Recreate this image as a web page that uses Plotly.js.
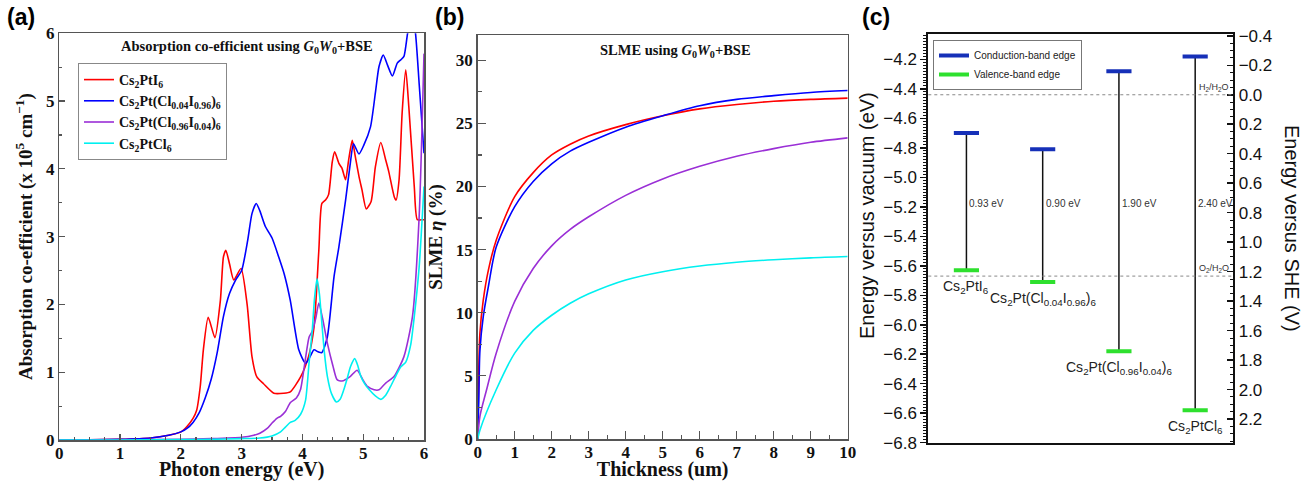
<!DOCTYPE html>
<html><head><meta charset="utf-8">
<script src="https://cdn.plot.ly/plotly-3.0.1.min.js"></script>
<style>html,body{margin:0;padding:0;background:#fff}#chart{width:1313px;height:481px}</style>
</head><body><div id="chart"></div>
<script>
// ---------- Panel (a): absorption coefficient (x 10^5 cm^-1) vs photon energy (eV)
const seriesNames = [
  'Cs<sub>2</sub>PtI<sub>6</sub>',
  'Cs<sub>2</sub>Pt(Cl<sub>0.04</sub>I<sub>0.96</sub>)<sub>6</sub>',
  'Cs<sub>2</sub>Pt(Cl<sub>0.96</sub>I<sub>0.04</sub>)<sub>6</sub>',
  'Cs<sub>2</sub>PtCl<sub>6</sub>'
];
const seriesColors = ['#ff0000', '#0000ff', '#9a2fd6', '#00f0f0'];

const energyI6 = [0,0.5,1.0,1.5,1.8,2.0,2.1,2.2,2.26,2.32,2.37,2.45,2.56,2.65,2.70,2.74,2.8,2.87,2.99,3.09,3.17,3.25,3.36,3.53,3.69,3.80,3.97,4.10,4.19,4.27,4.32,4.38,4.43,4.49,4.53,4.6,4.65,4.71,4.76,4.82,4.87,4.93,4.98,5.05,5.13,5.2,5.29,5.37,5.42,5.51,5.54,5.59,5.64,5.7,5.75,5.84,5.89,5.97,6.0];
const absI6    = [0,0.003,0.01,0.03,0.07,0.12,0.2,0.32,0.44,0.8,1.33,1.81,1.51,2.06,2.7,2.8,2.6,2.36,2.53,2.0,1.23,0.93,0.83,0.69,0.69,0.71,0.93,1.23,1.66,2.8,3.49,3.54,3.62,4.1,4.25,4.08,4.01,3.84,4.13,4.42,4.18,3.89,3.69,3.41,3.52,4.03,4.39,4.13,3.96,3.59,3.54,3.84,4.82,5.46,4.92,3.74,3.25,3.25,3.25];

const energyCl004 = [0,0.5,1.0,1.5,1.8,2.0,2.1,2.2,2.3,2.4,2.5,2.6,2.7,2.8,2.9,3.0,3.1,3.17,3.24,3.3,3.39,3.5,3.61,3.7,3.8,3.94,4.05,4.12,4.19,4.26,4.32,4.41,4.52,4.6,4.71,4.79,4.84,4.93,5.01,5.12,5.2,5.26,5.33,5.4,5.48,5.56,5.62,5.67,5.73,5.8,5.86,5.92,6.0];
const absCl004    = [0,0.003,0.01,0.03,0.07,0.12,0.17,0.26,0.4,0.62,0.9,1.3,1.82,2.16,2.36,2.5,2.95,3.34,3.49,3.38,3.15,2.98,2.7,2.45,2.06,1.33,1.13,1.22,1.33,1.3,1.29,1.52,2.41,2.85,3.54,4.1,4.37,4.22,4.35,4.62,5.12,5.51,5.68,5.53,5.37,5.56,5.61,5.66,6.0,6.3,6.0,5.26,4.23];

const energyCl096 = [0,1.0,2.0,2.5,3.0,3.2,3.3,3.42,3.5,3.58,3.64,3.72,3.8,3.9,3.97,4.03,4.11,4.16,4.22,4.27,4.33,4.41,4.5,4.57,4.65,4.79,4.9,5.0,5.07,5.18,5.26,5.37,5.51,5.67,5.81,5.92,6.0];
const absCl096    = [0,0.001,0.01,0.02,0.04,0.07,0.1,0.17,0.25,0.32,0.35,0.42,0.55,0.62,0.75,1.08,1.52,1.6,1.8,2.02,1.8,1.43,1.1,0.89,0.87,0.94,1.03,0.88,0.79,0.74,0.74,0.84,0.94,1.23,1.82,3.29,5.7];

const energyCl6 = [0,1.0,2.0,2.5,3.0,3.3,3.5,3.64,3.72,3.8,3.88,3.97,4.05,4.11,4.16,4.2,4.24,4.28,4.32,4.36,4.41,4.48,4.56,4.62,4.68,4.74,4.79,4.86,4.91,4.96,5.03,5.1,5.2,5.29,5.37,5.45,5.55,5.62,5.7,5.78,5.84,5.92,6.0];
const absCl6    = [0,0.001,0.005,0.01,0.02,0.03,0.06,0.12,0.19,0.26,0.29,0.38,0.58,1.15,1.6,2.1,2.38,2.15,1.72,1.3,0.94,0.68,0.56,0.6,0.74,0.92,1.08,1.2,1.1,0.94,0.82,0.74,0.65,0.6,0.66,0.79,0.97,1.08,1.15,1.4,1.82,2.55,3.74];

// ---------- Panel (b): SLME (%) vs thickness (um)
const thickI6 = [0,0.03,0.06,0.15,0.29,0.5,1,1.5,2,2.5,3,4,5,6,7,8,9,10];
const slmeI6  = [0,5.7,8.4,11.0,13.4,15.75,19.2,21.1,22.5,23.35,24.0,24.9,25.6,26.15,26.5,26.75,26.9,27.0];
const thickCl004 = [0,0.03,0.06,0.15,0.29,0.5,1,1.5,2,2.5,3,4,5,6,7,8,9,10];
const slmeCl004  = [0,3.1,7.0,9.7,12.1,15.2,18.4,20.4,21.8,22.8,23.5,24.7,25.6,26.4,26.9,27.2,27.45,27.6];
const thickCl096 = [0,0.06,0.24,0.5,1,1.5,2,2.5,3,4,5,6,7,8,9,10];
const slmeCl096  = [0,1.8,3.9,6.8,10.9,13.5,15.3,16.6,17.6,19.3,20.6,21.6,22.4,23.0,23.5,23.85];
const thickCl6 = [0,0.06,0.5,1,1.5,2,2.5,3,4,5,6,7,8,9,10];
const slmeCl6  = [0,0.7,3.9,6.8,8.6,9.8,10.75,11.5,12.6,13.25,13.7,14.0,14.2,14.35,14.45];

// ---------- Panel (c): band edges (eV vs vacuum)
const materialPos = [1, 2, 3, 4];
const cbEdge  = [-4.70, -4.81, -4.28, -4.18];
const bandGap = [0.93, 0.90, 1.90, 2.40];
const vbEdge  = cbEdge.map((c, i) => +(c - bandGap[i]).toFixed(2));
const redoxLevels = [-4.44, -5.67];
const redoxLabels = ['H<sub>2</sub>/H<sub>2</sub>O', 'O<sub>2</sub>/H<sub>2</sub>O'];
const SHE_OFFSET = 4.44;

// ---------- helpers / styling
const W = 1313, H = 481;
const px = v => v / W, py = v => 1 - v / H;
const SERIF = 'Liberation Serif, Times New Roman, serif';
const SANS = 'Liberation Sans, Arial, sans-serif';
const tickSerif = () => ({family: SERIF, size: 17, color: '#111', weight: 700});
const titleSerif = () => ({family: SERIF, size: 20, color: '#111', weight: 700});
const frame = '#555';

const traces = [];
const aX = [energyI6, energyCl004, energyCl096, energyCl6];
const aY = [absI6, absCl004, absCl096, absCl6];
aX.forEach((xs, i) => traces.push({
  x: xs, y: aY[i], type: 'scatter', mode: 'lines', name: seriesNames[i],
  line: {color: seriesColors[i], width: 1.6, shape: 'spline', smoothing: 0.6},
  xaxis: 'x', yaxis: 'y', legend: 'legend', hoverinfo: 'skip'
}));
const bX = [thickI6, thickCl004, thickCl096, thickCl6];
const bY = [slmeI6, slmeCl004, slmeCl096, slmeCl6];
bX.forEach((xs, i) => traces.push({
  x: xs, y: bY[i], type: 'scatter', mode: 'lines', name: seriesNames[i], showlegend: false,
  line: {color: seriesColors[i], width: 1.6, shape: 'spline', smoothing: 0.8},
  xaxis: 'x2', yaxis: 'y2', hoverinfo: 'skip'
}));

// panel (c)
const halfW = 0.165;
traces.push({
  x: materialPos, y: cbEdge, type: 'scatter', mode: 'markers', showlegend: false,
  marker: {size: 2, opacity: 0},
  error_y: {type: 'data', symmetric: false, array: materialPos.map(() => 0), arrayminus: bandGap,
            color: '#111', thickness: 1.5, width: 3},
  xaxis: 'x3', yaxis: 'y3', hoverinfo: 'skip'
});
traces.push({
  x: materialPos.flatMap(p => [p - halfW, p + halfW, null]),
  y: cbEdge.flatMap(v => [v, v, null]),
  type: 'scatter', mode: 'lines', name: 'Conduction-band edge',
  line: {color: '#1630b8', width: 4}, xaxis: 'x3', yaxis: 'y3', legend: 'legend2', hoverinfo: 'skip'
});
traces.push({
  x: materialPos.flatMap(p => [p - halfW, p + halfW, null]),
  y: vbEdge.flatMap(v => [v, v, null]),
  type: 'scatter', mode: 'lines', name: 'Valence-band edge',
  line: {color: '#2ee02e', width: 4}, xaxis: 'x3', yaxis: 'y3', legend: 'legend2', hoverinfo: 'skip'
});
traces.push({x: [], y: [], type: 'scatter', xaxis: 'x3', yaxis: 'y4', showlegend: false});

const P = (o) => Object.assign({xref: 'paper', yref: 'paper', xanchor: 'center', yanchor: 'middle', showarrow: false}, o);
const annotations = [
  P({text: '<b>(a)</b>', x: px(21), y: py(17), font: {family: SANS, size: 23, color: '#000'}}),
  P({text: '<b>(b)</b>', x: px(450), y: py(17), font: {family: SANS, size: 23, color: '#000'}}),
  P({text: '<b>(c)</b>', x: px(876), y: py(17), font: {family: SANS, size: 23, color: '#000'}}),
  P({text: 'Absorption co-efficient using <i>G</i><sub>0</sub><i>W</i><sub>0</sub>+BSE', x: px(247), y: py(47), font: {family: SERIF, size: 14.5, color: '#111', weight: 700}}),
  P({text: 'SLME using <i>G</i><sub>0</sub><i>W</i><sub>0</sub>+BSE', x: px(675), y: py(51), font: {family: SERIF, size: 14.5, color: '#111', weight: 700}}),
  P({text: 'Energy versus vacuum (eV)', textangle: -90, x: px(867), y: py(215), font: {family: SANS, size: 20, color: '#111'}}),
  P({text: 'Energy versus SHE (V)', textangle: 90, x: px(1292), y: py(228), font: {family: SANS, size: 20, color: '#111'}})
];
materialPos.forEach((p, i) => {
  annotations.push({text: bandGap[i].toFixed(2) + ' eV', x: p, y: -5.18, xref: 'x3', yref: 'y3', xanchor: 'left', yanchor: 'middle', xshift: 1, showarrow: false, font: {family: SANS, size: 10, color: '#333'}});
  annotations.push({text: seriesNames[i], x: p, y: vbEdge[i], xref: 'x3', yref: 'y3', xanchor: 'center', yanchor: 'middle', yshift: -17, showarrow: false, font: {family: SANS, size: 14, color: '#222'}});
});
const shapes = [];
redoxLevels.forEach((lv, i) => {
  shapes.push({type: 'line', xref: 'x3 domain', yref: 'y3', x0: 0, x1: 1, y0: lv, y1: lv, line: {color: '#888', width: 1, dash: 'dot'}});
  annotations.push({text: redoxLabels[i], x: 1, y: lv, xref: 'x3 domain', yref: 'y3', xanchor: 'right', yanchor: 'bottom', xshift: -2, showarrow: false, font: {family: SANS, size: 9, color: '#333'}});
});

const boldTicks = {tickprefix: '<b>', ticksuffix: '</b>'};
const layout = {
  width: W, height: H, margin: {l: 0, r: 0, t: 0, b: 0},
  font: {family: SERIF, color: '#111'},
  paper_bgcolor: '#fff', plot_bgcolor: '#fff', showlegend: true,
  xaxis: Object.assign({domain: [px(59.3), px(424)], range: [0, 6], anchor: 'y', dtick: 1, tick0: 0,
    showline: true, linecolor: frame, linewidth: 1.5, mirror: true, ticks: 'inside', ticklen: 6, tickcolor: frame, tickwidth: 1.2,
    minor: {dtick: 0.25, ticks: 'inside', ticklen: 3, tickcolor: frame}, showgrid: false, zeroline: false, tickfont: tickSerif(),
    ticklabelstandoff: -3,
    title: {text: 'Photon energy (eV)', font: titleSerif(), standoff: 3}}, boldTicks),
  yaxis: Object.assign({domain: [py(440), py(33.3)], range: [0, 6], anchor: 'x', dtick: 1,
    showline: true, linecolor: frame, linewidth: 1.5, mirror: true, ticks: 'inside', ticklen: 6, tickcolor: frame, tickwidth: 1.2,
    minor: {dtick: 0.5, ticks: 'inside', ticklen: 3, tickcolor: frame}, showgrid: false, zeroline: false, tickfont: tickSerif(),
    title: {text: 'Absorption co-efficient (x 10<sup>5</sup> cm<sup>\u22121</sup>)', font: {family: SERIF, size: 19, color: '#111', weight: 700}, standoff: 8}}, boldTicks),
  xaxis2: Object.assign({domain: [px(477.7), px(847.7)], range: [0, 10], anchor: 'y2', dtick: 1,
    showline: true, linecolor: frame, linewidth: 1.5, mirror: true, ticks: 'inside', ticklen: 8, tickcolor: frame, tickwidth: 1.2,
    minor: {dtick: 0.5, ticks: 'inside', ticklen: 4, tickcolor: frame}, showgrid: false, zeroline: false, tickfont: tickSerif(),
    ticklabelstandoff: -3,
    title: {text: 'Thickness (um)', font: titleSerif(), standoff: 2}}, boldTicks),
  yaxis2: Object.assign({domain: [py(439), py(35)], range: [0, 32], anchor: 'x2', dtick: 5,
    showline: true, linecolor: frame, linewidth: 1.5, mirror: true, ticks: 'inside', ticklen: 8, tickcolor: frame, tickwidth: 1.2,
    minor: {dtick: 2.5, ticks: 'inside', ticklen: 4, tickcolor: frame}, showgrid: false, zeroline: false, tickfont: tickSerif(),
    title: {text: 'SLME <i>\u03b7</i> (%)', font: {family: SERIF, size: 19, color: '#111', weight: 700}, standoff: 8}}, boldTicks),
  xaxis3: {domain: [px(928.3), px(1233.3)], range: [0.5, 4.5], anchor: 'y3', showticklabels: false, ticks: '',
    showline: true, linecolor: '#111', linewidth: 2, mirror: true, showgrid: false, zeroline: false},
  yaxis3: {domain: [py(442.7), py(34.3)], range: [-6.8, -4.03], anchor: 'x3', dtick: 0.2, tick0: 0, tickformat: '.1f',
    showline: true, linecolor: '#111', linewidth: 2, ticks: 'outside', ticklen: 6, tickwidth: 1.5, tickcolor: '#111',
    minor: {dtick: 0.02, ticks: 'outside', ticklen: 3, tickcolor: '#111', tickwidth: 1}, showgrid: false, zeroline: false,
    tickfont: {family: SANS, size: 17, color: '#111'}},
  yaxis4: {overlaying: 'y3', side: 'right', anchor: 'x3', range: [6.8 - SHE_OFFSET, 4.03 - SHE_OFFSET], dtick: 0.2, tick0: 0, tickformat: '.1f',
    showline: true, linecolor: '#111', linewidth: 2, ticks: 'inside', ticklen: 6, tickwidth: 1.5, tickcolor: '#111',
    minor: {dtick: 0.05, ticks: 'inside', ticklen: 3, tickcolor: '#111', tickwidth: 1}, showgrid: false, zeroline: false,
    tickfont: {family: SANS, size: 17, color: '#111'}},
  legend: {x: px(78), y: py(63), xanchor: 'left', yanchor: 'top', bgcolor: '#fff', bordercolor: '#888', borderwidth: 1,
    font: {family: SERIF, size: 14, color: '#111', weight: 700}, tracegroupgap: 0},
  legend2: {x: px(933), y: py(40), xanchor: 'left', yanchor: 'top', bgcolor: '#fff', bordercolor: '#777', borderwidth: 1,
    font: {family: SANS, size: 10, color: '#222'}, tracegroupgap: 0},
  annotations: annotations, shapes: shapes
};

Plotly.newPlot('chart', traces, layout, {staticPlot: true, displayModeBar: false});
</script></body></html>
